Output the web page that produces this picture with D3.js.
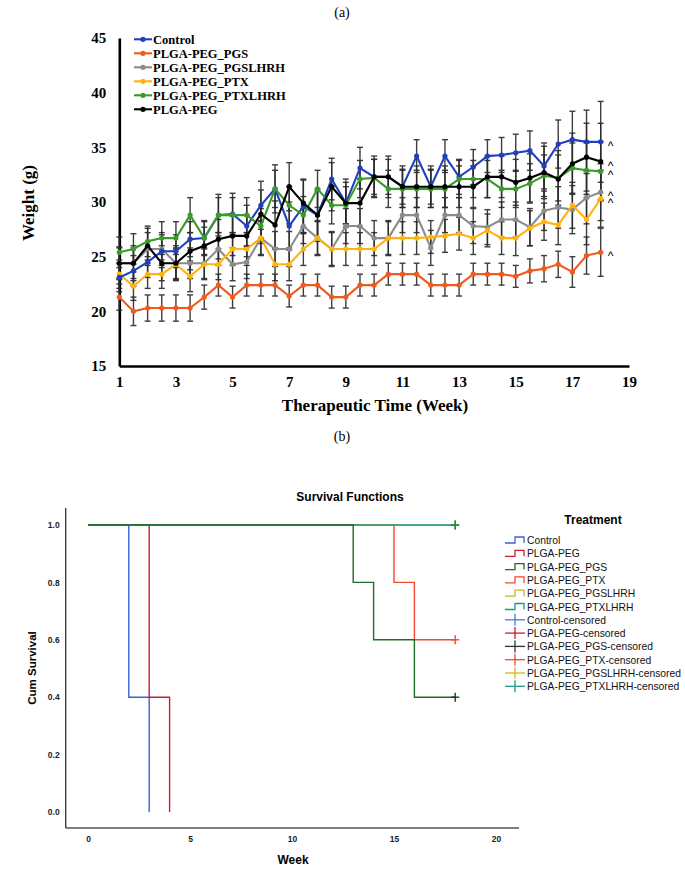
<!DOCTYPE html>
<html><head><meta charset="utf-8">
<script src="https://cdn.jsdelivr.net/npm/d3@7"></script>
<style>body{margin:0;background:#fff}svg{display:block}</style>
</head><body>
<svg id="c" width="685" height="870"></svg>
<script>
// ---------- Panel (a) data ----------
const weeks = [1,1.5,2,2.5,3,3.5,4,4.5,5,5.5,6,6.5,7,7.5,8,8.5,9,9.5,10,10.5,11,11.5,12,12.5,13,13.5,14,14.5,15,15.5,16,16.5,17,17.5,18];
const seriesNames = ["Control","PLGA-PEG_PGS","PLGA-PEG_PGSLHRH","PLGA-PEG_PTX","PLGA-PEG_PTXLHRH","PLGA-PEG"];
const control  = [23.1,23.7,24.5,25.5,25.5,26.6,26.7,28.8,28.9,27.8,29.7,31.2,27.8,29.6,28.8,32.1,29.9,33.1,32.3,32.3,31.4,34.2,31.4,34.2,32.3,33.2,34.2,34.3,34.5,34.7,33.3,35.3,35.7,35.5,35.5];
const pgs      = [21.3,20.0,20.3,20.3,20.3,20.3,21.3,22.4,21.3,22.4,22.4,22.4,21.4,22.4,22.4,21.3,21.3,22.4,22.4,23.4,23.4,23.4,22.4,22.4,22.4,23.4,23.4,23.4,23.2,23.7,23.9,24.3,23.6,25.1,25.4];
const pgslhrh  = [24.4,24.4,25.7,25.7,24.4,24.4,24.4,25.7,24.3,24.5,26.7,25.7,25.7,27.8,26.7,25.7,27.8,27.8,26.7,26.7,28.8,28.8,25.8,28.8,28.8,27.8,27.7,28.4,28.4,27.7,29.2,29.5,29.3,30.4,30.9];
const ptx      = [23.4,22.3,23.4,23.4,24.3,23.2,24.3,24.3,25.7,25.7,26.7,24.3,24.3,25.7,26.7,25.7,25.7,25.7,25.7,26.7,26.7,26.7,26.8,26.9,27.1,26.7,27.4,26.7,26.7,27.6,28.2,27.9,29.7,28.4,30.3];
const ptxlhrh  = [25.4,25.7,26.4,26.7,26.7,28.8,26.7,28.8,28.8,28.8,27.8,31.2,29.7,28.8,31.2,29.7,29.7,32.1,32.2,31.2,31.2,31.2,31.2,31.2,32.1,32.1,32.1,31.2,31.2,31.7,32.4,32.2,33.1,32.9,32.8];
const plgapeg  = [24.4,24.4,26.0,24.4,24.4,25.5,26.0,26.6,26.9,26.9,28.9,27.9,31.4,29.9,28.8,31.4,29.9,29.9,32.3,32.3,31.4,31.4,31.4,31.4,31.4,31.4,32.3,32.3,31.8,32.2,32.7,32.1,33.5,34.1,33.7];
// standard deviations (error bars)
const errControl = [1.3,1.4,1.4,1.5,1.5,1.6,1.6,1.9,1.9,1.9,2.2,2.2,2.2,2.4,2.4,1.9,1.9,1.9,1.6,1.6,1.6,1.5,1.6,1.5,1.6,1.6,1.5,1.6,1.7,1.8,2.1,2.2,2.6,2.9,3.7];
const errPgs     = [1.2,1.3,1.2,1.2,1.2,1.2,1.1,1.0,1.0,1.0,1.0,1.0,1.0,1.0,1.0,1.0,1.0,1.0,1.0,1.0,1.0,1.0,1.0,1.0,1.0,1.0,1.0,1.0,1.0,1.1,1.2,1.2,1.4,1.7,2.2];
const errPgslhrh = [1.4,1.4,1.5,1.5,1.4,1.4,1.4,1.5,1.5,1.5,1.6,1.6,1.6,1.6,1.6,1.6,1.6,1.6,1.6,1.6,1.6,1.6,1.6,1.6,1.6,1.6,1.6,1.6,1.6,1.7,1.8,1.9,2.2,2.4,2.6];
const errPtx     = [1.3,1.3,1.3,1.3,1.4,1.4,1.4,1.4,1.5,1.5,1.5,1.5,1.5,1.5,1.5,1.5,1.5,1.5,1.5,1.5,1.5,1.5,1.5,1.5,1.5,1.5,1.5,1.5,1.6,1.6,1.7,1.8,2.1,2.3,2.6];
const errPtxlhrh = [1.4,1.4,1.4,1.5,1.5,1.6,1.5,1.6,1.6,1.6,1.6,1.7,1.7,1.7,1.7,1.7,1.7,1.7,1.7,1.7,1.7,1.7,1.7,1.7,1.7,1.7,1.7,1.7,1.7,1.8,1.9,2.1,2.3,2.5,2.7];
const errPlgapeg = [1.5,1.6,1.6,1.6,1.6,1.7,1.7,1.8,1.8,1.9,2.2,2.2,2.2,2.2,2.2,2.2,2.2,2.2,1.9,1.9,1.9,1.9,1.9,1.9,1.9,1.9,1.9,1.9,2.1,2.2,2.4,2.6,2.8,3.1,3.5];
const xTicksA = [1,3,5,7,9,11,13,15,17,19];
const yTicksA = [15,20,25,30,35,40,45];

// ---------- Panel (b) data ----------
const groupsB = ["Control","PLGA-PEG","PLGA-PEG_PGS","PLGA-PEG_PTX","PLGA-PEG_PGSLHRH","PLGA-PEG_PTXLHRH"];
const kmTimes = {
  "Control":[0,2,3],
  "PLGA-PEG":[0,3,4],
  "PLGA-PEG_PGS":[0,13,14,16,18],
  "PLGA-PEG_PTX":[0,15,16,18],
  "PLGA-PEG_PGSLHRH":[0,18],
  "PLGA-PEG_PTXLHRH":[0,18]
};
const kmSurv = {
  "Control":[1,0.4,0],
  "PLGA-PEG":[1,0.4,0],
  "PLGA-PEG_PGS":[1,0.8,0.6,0.4,0.4],
  "PLGA-PEG_PTX":[1,0.8,0.6,0.6],
  "PLGA-PEG_PGSLHRH":[1,1],
  "PLGA-PEG_PTXLHRH":[1,1]
};
const censorTime = {"PLGA-PEG_PGS":18,"PLGA-PEG_PTX":18,"PLGA-PEG_PGSLHRH":18,"PLGA-PEG_PTXLHRH":18};
const xTicksB = [0,5,10,15,20];
const yTicksB = [0.0,0.2,0.4,0.6,0.8,1.0];
const legendB = ["Control","PLGA-PEG","PLGA-PEG_PGS","PLGA-PEG_PTX","PLGA-PEG_PGSLHRH","PLGA-PEG_PTXLHRH",
  "Control-censored","PLGA-PEG-censored","PLGA-PEG_PGS-censored","PLGA-PEG_PTX-censored","PLGA-PEG_PGSLHRH-censored","PLGA-PEG_PTXLHRH-censored"];

// ---------- drawing ----------
const svg = d3.select("#c");
const serif = "'Liberation Serif','Times New Roman',serif";
const sans = "'Liberation Sans',Arial,sans-serif";

svg.append("text").attr("x",342).attr("y",17).attr("text-anchor","middle")
  .attr("font-family",serif).attr("font-size",14).text("(a)");

const xA = d3.scaleLinear().domain([1,19]).range([119.3,629]);
const yA = d3.scaleLinear().domain([15,45]).range([366,38]);
const gA = svg.append("g");

const axB = gA.append("g").attr("transform","translate(0,366)")
  .call(d3.axisBottom(xA).tickValues(xTicksA).tickSize(0).tickPadding(10));
const axL = gA.append("g").attr("transform","translate(119.3,0)")
  .call(d3.axisLeft(yA).tickValues(yTicksA).tickSize(0).tickPadding(13));
[axB,axL].forEach(a=>{
  a.select(".domain").attr("stroke","#000").attr("stroke-width",2.6);
  a.selectAll("text").attr("font-family",serif).attr("font-weight","bold").attr("font-size",15).attr("fill","#000");
});

gA.append("text").attr("transform","translate(34,203) rotate(-90)").attr("text-anchor","middle")
  .attr("font-family",serif).attr("font-weight","bold").attr("font-size",17).text("Weight (g)");
gA.append("text").attr("x",375).attr("y",411).attr("text-anchor","middle")
  .attr("font-family",serif).attr("font-weight","bold").attr("font-size",17).text("Therapeutic Time (Week)");

const seriesA = [
  {name:seriesNames[0], v:control, e:errControl, c:"#1f3fbf"},
  {name:seriesNames[1], v:pgs, e:errPgs, c:"#f05a1e"},
  {name:seriesNames[2], v:pgslhrh, e:errPgslhrh, c:"#8c8c8c"},
  {name:seriesNames[3], v:ptx, e:errPtx, c:"#ffb310"},
  {name:seriesNames[4], v:ptxlhrh, e:errPtxlhrh, c:"#3a9a2a"},
  {name:seriesNames[5], v:plgapeg, e:errPlgapeg, c:"#000000"}
];

// error bars
seriesA.forEach(s=>{
  const g = gA.append("g").attr("stroke","#2a2a2a").attr("stroke-width",1.4).attr("opacity",0.9);
  weeks.forEach((w,i)=>{
    const x = xA(w), y1 = yA(s.v[i]+s.e[i]), y2 = yA(s.v[i]-s.e[i]);
    g.append("line").attr("x1",x).attr("x2",x).attr("y1",y1).attr("y2",y2);
    g.append("line").attr("x1",x-3).attr("x2",x+3).attr("y1",y1).attr("y2",y1);
    g.append("line").attr("x1",x-3).attr("x2",x+3).attr("y1",y2).attr("y2",y2);
  });
});
// lines
const lineA = d3.line().x((d,i)=>xA(weeks[i])).y(d=>yA(d));
const drawOrder = [2,3,1,0,4,5];
drawOrder.forEach(k=>{
  const s = seriesA[k];
  gA.append("path").attr("d",lineA(s.v)).attr("fill","none").attr("stroke",s.c).attr("stroke-width",2.1);
  gA.append("g").selectAll("circle").data(s.v).join("circle")
    .attr("cx",(d,i)=>xA(weeks[i])).attr("cy",d=>yA(d)).attr("r",2.6).attr("fill",s.c);
});
// end markers "^"
seriesA.forEach(s=>{
  gA.append("text").attr("x",xA(18)+7).attr("y",yA(s.v[s.v.length-1])+8)
    .attr("font-family",sans).attr("font-size",12).attr("fill","#000").text("^");
});
// legend (a)
seriesA.forEach((s,i)=>{
  const y = 39.3 + i*14;
  gA.append("line").attr("x1",134).attr("x2",152).attr("y1",y).attr("y2",y).attr("stroke",s.c).attr("stroke-width",2.1);
  gA.append("circle").attr("cx",143).attr("cy",y).attr("r",2.6).attr("fill",s.c);
  gA.append("text").attr("x",153).attr("y",y+4.3).attr("font-family",serif).attr("font-weight","bold")
    .attr("font-size",12.5).text(s.name);
});

// ---------- Panel (b) ----------
svg.append("text").attr("x",342).attr("y",441).attr("text-anchor","middle")
  .attr("font-family",serif).attr("font-size",14).text("(b)");
svg.append("text").attr("x",350).attr("y",501).attr("text-anchor","middle")
  .attr("font-family",sans).attr("font-weight","bold").attr("font-size",12).text("Survival Functions");

const xB = d3.scaleLinear().domain([0,20]).range([88,496]);
const yB = d3.scaleLinear().domain([0,1]).range([812,525]);
const gB = svg.append("g");
gB.append("line").attr("x1",65.7).attr("x2",65.7).attr("y1",508).attr("y2",828).attr("stroke","#333").attr("stroke-width",1.3);
gB.append("line").attr("x1",65.7).attr("x2",519).attr("y1",828).attr("y2",828).attr("stroke","#555").attr("stroke-width",1.3);
const bx = gB.append("g").attr("transform","translate(0,828)")
  .call(d3.axisBottom(xB).tickValues(xTicksB).tickSize(0).tickPadding(8).tickFormat(d3.format("d")));
const by = gB.append("g").attr("transform","translate(65.7,0)")
  .call(d3.axisLeft(yB).tickValues(yTicksB).tickSize(0).tickPadding(6).tickFormat(d3.format(".1f")));
[bx,by].forEach(a=>{
  a.select(".domain").remove();
  a.selectAll("text").attr("font-family",sans).attr("font-size",8.5).attr("font-weight","bold").attr("fill","#222");
});
gB.append("text").attr("transform","translate(36,668) rotate(-90)").attr("text-anchor","middle")
  .attr("font-family",sans).attr("font-weight","bold").attr("font-size",11.5).text("Cum Survival");
gB.append("text").attr("x",293).attr("y",864).attr("text-anchor","middle")
  .attr("font-family",sans).attr("font-weight","bold").attr("font-size",12).text("Week");

const colB = {
  "Control":"#3a62d8","PLGA-PEG":"#c8202e","PLGA-PEG_PGS":"#1e6b2a","PLGA-PEG_PTX":"#f24a2e",
  "PLGA-PEG_PGSLHRH":"#c8b42a","PLGA-PEG_PTXLHRH":"#1f9a82"
};
const colCens = {
  "Control-censored":"#4a7ae0","PLGA-PEG-censored":"#c8202e","PLGA-PEG_PGS-censored":"#333333",
  "PLGA-PEG_PTX-censored":"#f24a2e","PLGA-PEG_PGSLHRH-censored":"#d0b81a","PLGA-PEG_PTXLHRH-censored":"#1f9a82"
};
const kmLine = d3.line().x(d=>xB(d[0])).y(d=>yB(d[1])).curve(d3.curveStepAfter);
const orderB = ["Control","PLGA-PEG","PLGA-PEG_PTX","PLGA-PEG_PGSLHRH","PLGA-PEG_PTXLHRH","PLGA-PEG_PGS"];
orderB.forEach(g=>{
  const pts = kmTimes[g].map((t,i)=>[t,kmSurv[g][i]]);
  gB.append("path").attr("d",kmLine(pts)).attr("fill","none").attr("stroke",colB[g]).attr("stroke-width",1.4);
});
Object.keys(censorTime).forEach(g=>{
  const t = censorTime[g], s = kmSurv[g][kmSurv[g].length-1];
  const cx = xB(t), cy = yB(s);
  const c = g==="PLGA-PEG_PGS" ? "#1a3a1a" : (g==="PLGA-PEG_PTX" ? colB[g] : "#2a8a3a");
  gB.append("line").attr("x1",cx-4).attr("x2",cx+4).attr("y1",cy).attr("y2",cy).attr("stroke",c).attr("stroke-width",1.4);
  gB.append("line").attr("x1",cx).attr("x2",cx).attr("y1",cy-4.5).attr("y2",cy+4.5).attr("stroke",c).attr("stroke-width",1.4);
});

// legend (b)
gB.append("text").attr("x",593).attr("y",524).attr("text-anchor","middle")
  .attr("font-family",sans).attr("font-weight","bold").attr("font-size",12).text("Treatment");
legendB.forEach((name,i)=>{
  const y = 540 + i*13.3;
  const g = gB.append("g");
  if(i<6){
    const c = colB[groupsB[i]];
    g.append("path").attr("d",`M505,${y+3}H515V${y-3}H524V${y+3}`).attr("fill","none").attr("stroke",c).attr("stroke-width",1.3);
  } else {
    const c = colCens[name];
    g.append("line").attr("x1",505).attr("x2",525).attr("y1",y).attr("y2",y).attr("stroke",c).attr("stroke-width",1.3);
    g.append("line").attr("x1",515).attr("x2",515).attr("y1",y-6).attr("y2",y+6).attr("stroke",c).attr("stroke-width",1.3);
  }
  g.append("text").attr("x",527).attr("y",y+4).attr("font-family",sans).attr("font-size",10.3).attr("fill","#111").text(name);
});
</script>
</body></html>
